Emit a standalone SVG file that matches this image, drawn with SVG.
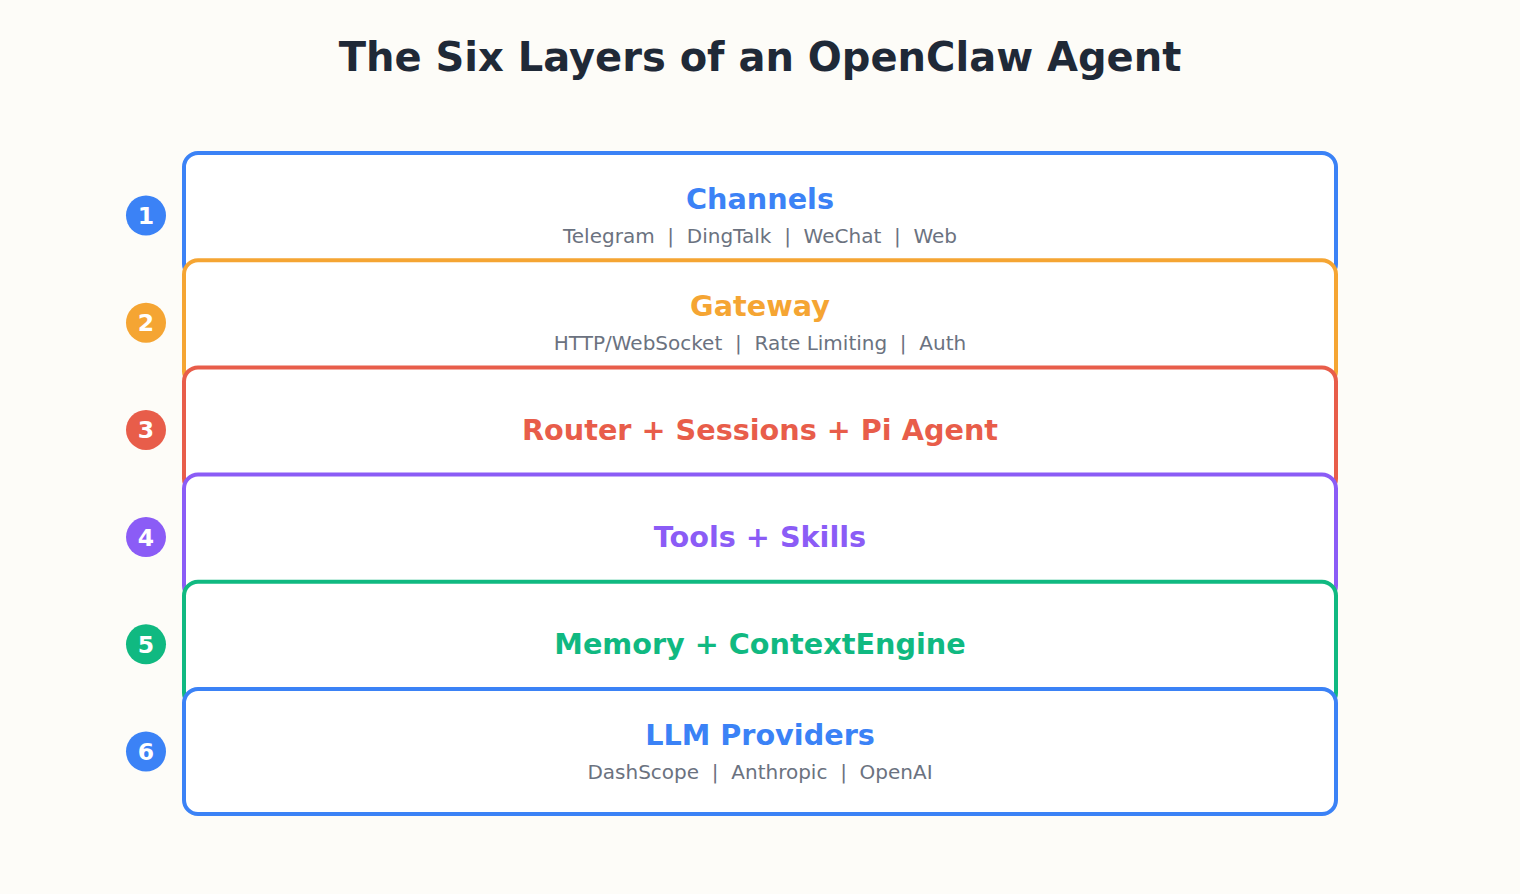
<svg xmlns="http://www.w3.org/2000/svg" width="1520" height="894" viewBox="0 0 1520 894">
<style>
.bg{fill:#fdfcf8}
.box{fill:#ffffff;stroke-width:4}
.t{font-family:"DejaVu Sans",sans-serif;font-weight:bold;font-size:28.7px;text-anchor:middle}
.s{font-family:"DejaVu Sans",sans-serif;font-size:20px;fill:#6b7280;text-anchor:middle;white-space:pre}
.n{font-family:"DejaVu Sans",sans-serif;font-weight:bold;font-size:23.5px;fill:#ffffff;text-anchor:middle}
.title{font-family:"DejaVu Sans",sans-serif;font-weight:bold;font-size:40px;fill:#1f2937;text-anchor:middle}
</style>
<rect class="bg" x="0" y="0" width="1520" height="894"/>
<text class="title" x="760" y="71">The Six Layers of an OpenClaw Agent</text>
<g id="connectors"></g>
<g id="layer1">
<rect class="box" x="184" y="153" width="1152" height="125" rx="14" stroke="#3b82f6"/>
<circle cx="146" cy="215.5" r="20" fill="#3b82f6"/>
<text class="n" x="146" y="224">1</text>
<text class="t" x="760" y="209" fill="#3b82f6">Channels</text>
<text class="s" x="760" y="243" xml:space="preserve">Telegram  |  DingTalk  |  WeChat  |  Web</text>
</g>
<g id="layer2">
<rect class="box" x="184" y="260.2" width="1152" height="125" rx="14" stroke="#f5a533"/>
<circle cx="146" cy="322.7" r="20" fill="#f5a533"/>
<text class="n" x="146" y="331.2">2</text>
<text class="t" x="760" y="316.2" fill="#f5a533">Gateway</text>
<text class="s" x="760" y="350.2" xml:space="preserve">HTTP/WebSocket  |  Rate Limiting  |  Auth</text>
</g>
<g id="layer3">
<rect class="box" x="184" y="367.4" width="1152" height="125" rx="14" stroke="#e85d4a"/>
<circle cx="146" cy="429.9" r="20" fill="#e85d4a"/>
<text class="n" x="146" y="438.4">3</text>
<text class="t" x="760" y="439.5" fill="#e85d4a">Router + Sessions + Pi Agent</text>
</g>
<g id="layer4">
<rect class="box" x="184" y="474.6" width="1152" height="125" rx="14" stroke="#8b5cf6"/>
<circle cx="146" cy="537.1" r="20" fill="#8b5cf6"/>
<text class="n" x="146" y="545.6">4</text>
<text class="t" x="760" y="546.7" fill="#8b5cf6">Tools + Skills</text>
</g>
<g id="layer5">
<rect class="box" x="184" y="581.8" width="1152" height="125" rx="14" stroke="#10b981"/>
<circle cx="146" cy="644.3" r="20" fill="#10b981"/>
<text class="n" x="146" y="652.8">5</text>
<text class="t" x="760" y="653.9" fill="#10b981">Memory + ContextEngine</text>
</g>
<g id="layer6">
<rect class="box" x="184" y="689" width="1152" height="125" rx="14" stroke="#3b82f6"/>
<circle cx="146" cy="751.5" r="20" fill="#3b82f6"/>
<text class="n" x="146" y="760">6</text>
<text class="t" x="760" y="745" fill="#3b82f6">LLM Providers</text>
<text class="s" x="760" y="779" xml:space="preserve">DashScope  |  Anthropic  |  OpenAI</text>
</g>
</svg>
